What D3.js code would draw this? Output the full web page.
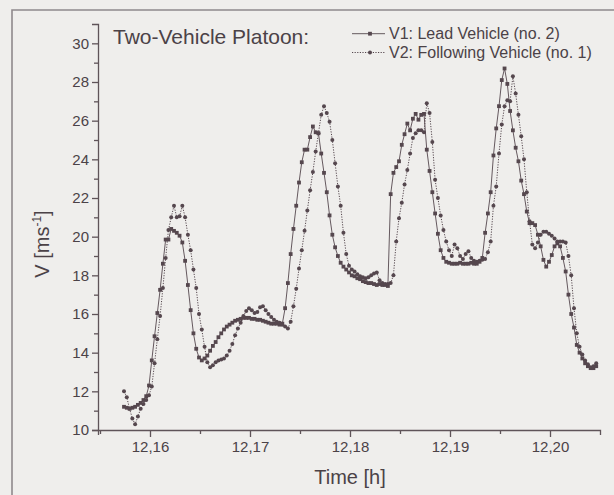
<!DOCTYPE html>
<html><head><meta charset="utf-8">
<script src="https://cdn.jsdelivr.net/npm/d3@7"></script>
<style>html,body{margin:0;padding:0;background:#efeeec;} svg{display:block;}</style>
</head><body>
<svg id="chart" width="614" height="495"></svg>
<script>
// ---- data ----
const startTime = 12.1574;      // h, first sample
const sampleSeconds = 1;        // one sample per second
const v1Values = [11.2,11.15,11.1,11.15,11.2,11.3,11.4,11.55,11.75,12.3,
13.6,14.85,16.05,17.25,18.6,19.85,19.85,20.4,20.3,20.2,
20.05,19.7,18.75,17.5,16.2,15.0,14.2,13.75,13.6,13.7,
13.85,14.1,14.35,14.55,14.8,15.0,15.2,15.35,15.45,15.55,
15.65,15.7,15.75,15.8,15.8,15.8,15.75,15.75,15.7,15.7,
15.65,15.6,15.55,15.5,15.5,15.5,15.45,15.5,16.3,17.6,
19.1,20.4,21.6,22.8,23.85,24.5,24.5,25.15,25.7,25.4,
25.35,24.3,23.3,22.3,21.1,20.1,19.45,19.0,18.65,18.45,
18.3,18.15,18.0,17.95,17.85,17.8,17.7,17.65,17.6,17.6,
17.55,17.5,17.55,17.5,17.5,17.45,22.2,23.3,23.6,23.9,
24.75,25.3,25.85,25.5,26.1,26.35,26.05,26.3,26.35,24.5,
23.4,22.3,21.2,20.15,19.3,18.9,18.7,18.65,18.6,18.6,
18.6,18.65,18.6,18.6,18.6,18.65,18.6,18.6,18.7,18.9,
20.2,21.2,22.3,24.2,25.6,26.75,28.1,28.7,27.9,26.5,
25.5,24.6,23.9,22.9,22.2,21.3,20.7,20.7,20.6,20.1,
19.5,18.8,18.45,18.7,19.05,19.5,19.65,19.5,18.9,18.2,
17.0,16.0,15.3,14.4,14.0,13.7,13.45,13.3,13.2,13.2,13.3];
const v2Values = [12.0,11.7,11.1,10.6,10.3,10.7,11.1,11.35,11.55,11.8,
12.25,13.45,14.7,15.9,17.35,18.9,20.35,21.0,21.6,21.0,
21.05,21.6,21.0,20.1,19.3,18.3,17.35,16.0,15.2,14.3,
13.5,13.25,13.35,13.5,13.6,13.65,13.7,13.85,14.1,14.45,
14.9,15.25,15.55,15.9,16.15,16.3,16.2,16.05,16.1,16.35,
16.4,16.2,16.0,15.85,15.7,15.6,15.55,15.45,15.35,15.25,
15.6,16.4,17.3,18.35,19.3,20.3,21.35,22.4,23.35,24.4,
25.35,26.3,26.75,26.4,25.95,25.0,23.8,22.6,21.6,20.2,
19.1,18.5,18.3,18.2,18.05,17.95,17.9,17.85,17.9,18.0,
18.1,18.15,17.75,17.6,17.55,17.55,17.6,18.0,19.75,20.95,
21.75,22.7,23.45,24.3,25.1,25.35,25.5,25.5,25.4,26.9,
26.4,24.9,22.95,22.0,21.1,20.35,19.75,19.3,19.0,19.6,
19.4,19.0,18.85,19.1,19.25,18.9,18.75,18.7,18.75,18.8,
18.85,19.2,19.75,21.6,22.6,24.3,25.8,26.75,27.05,27.0,
28.3,27.4,26.3,25.2,24.0,22.3,20.8,19.6,19.4,19.7,
20.1,20.25,20.25,20.15,20.05,19.9,19.75,19.75,19.75,19.7,
19.0,18.0,16.3,15.0,14.3,13.9,13.6,13.4,13.25,13.3,13.45];
const seriesNames = ["V1: Lead Vehicle (no. 2)", "V2: Following Vehicle (no. 1)"];
const xTickValues = [12.16, 12.17, 12.18, 12.19, 12.20];
const xTickLabels = ["12,16", "12,17", "12,18", "12,19", "12,20"];
const xMinorTicks = [12.155, 12.165, 12.175, 12.185, 12.195];
const yTickValues = [10, 12, 14, 16, 18, 20, 22, 24, 26, 28, 30];
const yMinorTicks = [11, 13, 15, 17, 19, 21, 23, 25, 27, 29];
const titleText = "Two-Vehicle Platoon:";
const xTitle = "Time [h]";

// ---- drawing ----
const ink = "#55474e", axisInk = "#5f5459", textInk = "#4b4247";
const font = "'Liberation Sans', Arial, Helvetica, sans-serif";
const svg = d3.select("#chart");

// scanned page border
svg.append("path").attr("d", "M12,495 L12,10 L614,10")
  .attr("fill", "none").attr("stroke", "#8f898c").attr("stroke-width", 1.6);

const x = d3.scaleLinear().domain([12.1548, 12.2050]).range([98, 600]);
const y = d3.scaleLinear().domain([10, 31]).range([430, 24]);

const toPts = vals => vals.map((v, i) => ({t: startTime + i * sampleSeconds / 3600, v}));
const s1 = toPts(v1Values), s2 = toPts(v2Values);

// axes
svg.append("g").attr("transform", "translate(0,430)")
  .call(d3.axisBottom(x).tickValues(xTickValues)
    .tickFormat((d, i) => xTickLabels[i]).tickSize(7).tickSizeOuter(5).tickPadding(4));
svg.append("g").attr("transform", "translate(0,430)")
  .call(d3.axisBottom(x).tickValues(xMinorTicks).tickFormat("").tickSize(4).tickSizeOuter(0))
  .call(g => g.select(".domain").remove());
svg.append("g").attr("transform", "translate(98,0)")
  .call(d3.axisLeft(y).tickValues(yTickValues).tickSize(6).tickSizeOuter(6).tickPadding(3));
svg.append("g").attr("transform", "translate(98,0)")
  .call(d3.axisLeft(y).tickValues(yMinorTicks).tickFormat("").tickSize(4).tickSizeOuter(0))
  .call(g => g.select(".domain").remove());
svg.selectAll(".domain, .tick line").attr("stroke", axisInk).attr("stroke-width", 1.3);
svg.selectAll(".tick text").attr("fill", textInk).attr("font-family", font).attr("font-size", 15);

// axis titles
svg.append("text").attr("x", 350).attr("y", 484).attr("text-anchor", "middle")
  .attr("font-family", font).attr("font-size", 20).attr("fill", textInk).text(xTitle);
const yl = svg.append("text").attr("transform", "translate(49,244) rotate(-90)")
  .attr("text-anchor", "middle").attr("font-family", font).attr("font-size", 20).attr("fill", textInk);
yl.append("tspan").text("V [ms");
yl.append("tspan").attr("font-size", 12).attr("dy", -8).text("-1");
yl.append("tspan").attr("dy", 8).text("]");

// lines
const line = d3.line().x(d => x(d.t)).y(d => y(d.v));
svg.append("path").datum(s1).attr("d", line).attr("fill", "none")
  .attr("stroke", ink).attr("stroke-width", 0.9);
svg.append("path").datum(s2).attr("d", line).attr("fill", "none")
  .attr("stroke", ink).attr("stroke-width", 1).attr("stroke-dasharray", "1.2,1.4");

// markers
svg.append("g").selectAll("rect").data(s1).join("rect")
  .attr("x", d => x(d.t) - 1.9).attr("y", d => y(d.v) - 1.9)
  .attr("width", 3.8).attr("height", 3.8).attr("fill", ink);
svg.append("g").selectAll("circle").data(s2).join("circle")
  .attr("cx", d => x(d.t)).attr("cy", d => y(d.v)).attr("r", 2).attr("fill", ink);

// title
svg.append("text").attr("x", 113).attr("y", 44).attr("font-family", font)
  .attr("font-size", 21).attr("fill", textInk).text(titleText);

// legend
const lg = svg.append("g");
[0, 1].forEach(k => {
  const ly = k === 0 ? 33.7 : 52.5;
  lg.append("line").attr("x1", 352).attr("x2", 385).attr("y1", ly).attr("y2", ly)
    .attr("stroke", ink).attr("stroke-width", k === 0 ? 0.9 : 1)
    .attr("stroke-dasharray", k === 0 ? null : "1.2,1.4");
  if (k === 0) lg.append("rect").attr("x", 368.1).attr("y", ly - 1.9).attr("width", 3.8).attr("height", 3.8).attr("fill", ink);
  else lg.append("circle").attr("cx", 370).attr("cy", ly).attr("r", 2).attr("fill", ink);
  lg.append("text").attr("x", 389).attr("y", ly + 5.4).attr("font-family", font)
    .attr("font-size", 16).attr("fill", textInk).text(seriesNames[k]);
});
</script>
</body></html>
